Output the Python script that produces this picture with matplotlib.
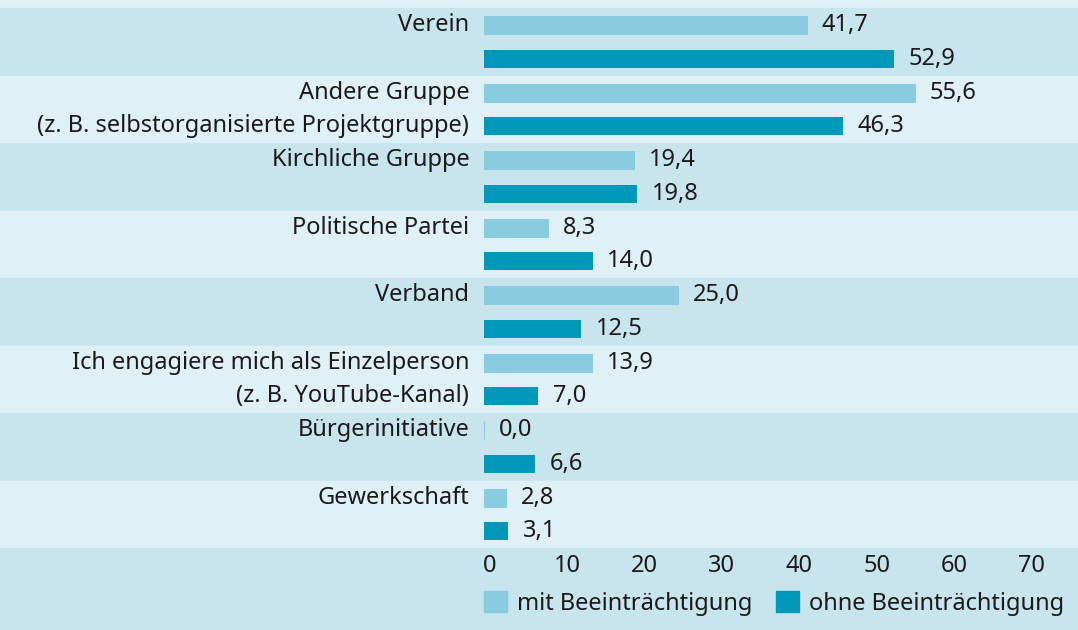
import matplotlib.pyplot as plt
from matplotlib.patches import Patch

plt.rcParams['font.family'] = ['Noto Sans', 'DejaVu Sans']

kategorien = ['Verein',
              'Andere Gruppe\n(z. B. selbstorganisierte Projektgruppe)',
              'Kirchliche Gruppe',
              'Politische Partei',
              'Verband',
              'Ich engagiere mich als Einzelperson\n(z. B. YouTube-Kanal)',
              'Bürgerinitiative',
              'Gewerkschaft']
mit = [41.7, 55.6, 19.4, 8.3, 25.0, 13.9, 0.0, 2.8]
ohne = [52.9, 46.3, 19.8, 14.0, 12.5, 7.0, 6.6, 3.1]
ticks = [0, 10, 20, 30, 40, 50, 60, 70]

c_mit = '#8accdf'
c_ohne = '#0099ba'
band_dunkel = '#c8e5ee'
band_hell = '#e0f0f7'

W, H = 1078, 630
px_x = 7.75     # pixel pro Prozentpunkt
x0 = 484        # pixel der Nulllinie
px_y = 67.5     # pixel pro Kategorie
y0 = 42         # pixel der ersten Kategorienmitte

fig = plt.figure(figsize=(W / 100, H / 100), dpi=100)
ax = fig.add_axes([0, 0, 1, 1])
ax.set_xlim(-x0 / px_x, (W - x0) / px_x)
ax.set_ylim((H - y0) / px_y, -y0 / px_y)
ax.axis('off')

n = len(kategorien)
# Hintergrundstreifen
ax.axhspan(-y0 / px_y, -0.5, color=band_hell, zorder=0)
for i in range(n):
    ax.axhspan(i - 0.5, i + 0.5, color=band_dunkel if i % 2 == 0 else band_hell, zorder=0)
ax.axhspan(n - 0.5, (H - y0) / px_y, color=band_dunkel, zorder=0)

off = 0.25
h = 18 / px_y
pos = list(range(n))
ax.barh([p - off for p in pos], mit, height=h, color=c_mit, edgecolor=c_mit, linewidth=0.8, zorder=2)
ax.barh([p + off for p in pos], ohne, height=h, color=c_ohne, linewidth=0, zorder=2)

fs = 17
for i in range(n):
    zeilen = kategorien[i].split('\n')
    for j, z in enumerate(zeilen):
        ax.text(-1.9, i - off + 2 * off * j, z, ha='right', va='center', fontsize=fs, color='#1a1a1a')
    ax.text(mit[i] + 1.9, i - off, f'{mit[i]:.1f}'.replace('.', ','), ha='left', va='center',
            fontsize=fs, color='#1a1a1a')
    ax.text(ohne[i] + 1.9, i + off, f'{ohne[i]:.1f}'.replace('.', ','), ha='left', va='center',
            fontsize=fs, color='#1a1a1a')

y_ticks = (566 - y0) / px_y
for t in ticks:
    ax.text(t + 0.7, y_ticks, str(t), ha='center', va='center', fontsize=fs, color='#1a1a1a')

handles = [Patch(color=c_mit, label='mit Beeinträchtigung'),
           Patch(color=c_ohne, label='ohne Beeinträchtigung')]
ax.legend(handles=handles, loc='lower right', bbox_to_anchor=(1.0, 0.0), ncol=2, frameon=False,
          fontsize=fs, handlelength=1.0, handleheight=1.0, handletextpad=0.4,
          columnspacing=1.0, borderaxespad=0.2, labelcolor='#1a1a1a')

fig.savefig('out.png', dpi=100)
